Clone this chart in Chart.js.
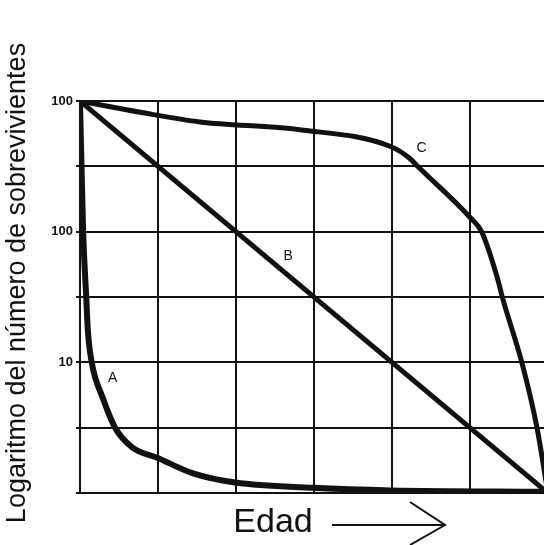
<!DOCTYPE html>
<html>
<head>
<meta charset="utf-8">
<script src="https://cdn.jsdelivr.net/npm/chart.js@4/dist/chart.umd.min.js"></script>
<style>
  html, body { margin: 0; padding: 0; background: #fff; }
  #wrap { width: 544px; height: 545px; }
</style>
</head>
<body>
<div id="wrap"><canvas id="curvas"></canvas></div>
<script>
// edad en unidades de la cuadrícula, sobrevivientes en log10
const edadA = [0, 0.04, 0.08, 0.10, 0.15, 0.29, 0.45, 0.67, 0.99, 1.45, 1.99, 2.99, 3.99, 6];
const logA  = [3, 2.0, 1.5, 1.25, 1.0, 0.73, 0.50, 0.35, 0.27, 0.15, 0.08, 0.04, 0.02, 0.01];

const edadB = [0, 6];
const logB  = [3, 0];

const edadC = [0, 0.81, 1.54, 2.82, 3.99, 4.23, 4.33, 5.0, 5.15, 5.35, 5.42, 5.67, 5.86, 6];
const logC  = [3, 2.91, 2.84, 2.78, 2.65, 2.56, 2.50, 2.11, 2.0, 1.65, 1.49, 0.99, 0.50, 0];

// etiquetas del eje y (tal como aparecen en la figura)
const yTickValues = [1, 2, 3];
const yTickLabels = ['10', '100', '100'];

// columnas de edad visibles (la figura esta cortada a la derecha)
const xGrid = [0, 1, 2, 3, 4, 5];

const curveNames = ['A', 'B', 'C'];
const namePos = [[0.42, 0.88], [2.67, 1.81], [4.38, 2.64]];

const toPoints = (xs, ys) => xs.map((x, i) => ({ x: x, y: ys[i] }));

const ink = '#111';

const textos = {
  id: 'textos',
  afterDraw(chart) {
    const c = chart.ctx;
    const xs = chart.scales.x, ys = chart.scales.y;
    c.save();
    c.fillStyle = ink;

    // nombres de las curvas
    c.font = '14px "Liberation Sans", sans-serif';
    c.textAlign = 'center';
    c.textBaseline = 'middle';
    curveNames.forEach((n, i) => {
      c.fillText(n, xs.getPixelForValue(namePos[i][0]), ys.getPixelForValue(namePos[i][1]));
    });

    // titulo del eje y
    c.save();
    c.translate(18, 283);
    c.rotate(-Math.PI / 2);
    c.font = '27px "Liberation Sans", sans-serif';
    c.fillText('Logaritmo del número de sobrevivientes', 0, 0);
    c.restore();

    // titulo del eje x con flecha
    c.font = '34px "Liberation Sans", sans-serif';
    c.fillText('Edad', 273, 523);
    c.strokeStyle = ink;
    c.lineWidth = 2;
    c.beginPath();
    c.moveTo(332, 525);
    c.lineTo(445, 525);
    c.moveTo(410, 502);
    c.lineTo(445, 525);
    c.lineTo(410, 545);
    c.stroke();
    c.restore();
  }
};

const lineStyle = {
  borderColor: ink,
  borderWidth: 5,
  pointRadius: 0,
  fill: false,
  cubicInterpolationMode: 'monotone'
};

new Chart(document.getElementById('curvas'), {
  type: 'line',
  data: {
    datasets: [
      Object.assign({ label: 'A', data: toPoints(edadA, logA) }, lineStyle, { borderWidth: 6 }),
      Object.assign({ label: 'B', data: toPoints(edadB, logB) }, lineStyle),
      Object.assign({ label: 'C', data: toPoints(edadC, logC) }, lineStyle)
    ]
  },
  options: {
    responsive: true,
    maintainAspectRatio: false,
    animation: false,
    layout: { padding: { top: 101, right: 0, left: 0, bottom: 0 } },
    plugins: {
      legend: { display: false },
      tooltip: { enabled: false }
    },
    scales: {
      x: {
        type: 'linear',
        min: 0,
        max: 5.95,
        ticks: { display: false },
        afterBuildTicks: s => { s.ticks = xGrid.map(v => ({ value: v })); },
        grid: { color: ink, lineWidth: 2, drawTicks: false },
        border: { color: ink, width: 2 },
        afterFit: s => { s.height = 52; }
      },
      y: {
        type: 'linear',
        min: 0,
        max: 3,
        ticks: {
          stepSize: 0.5,
          padding: 3,
          color: ink,
          font: { family: '"Liberation Sans", sans-serif', size: 13, weight: 'bold' },
          callback: v => {
            const i = yTickValues.indexOf(v);
            return i >= 0 ? yTickLabels[i] : '';
          }
        },
        grid: { color: ink, lineWidth: 2, tickLength: 4 },
        border: { color: ink, width: 2 },
        afterFit: s => { s.width = 80; }
      }
    }
  },
  plugins: [textos]
});
</script>
</body>
</html>
